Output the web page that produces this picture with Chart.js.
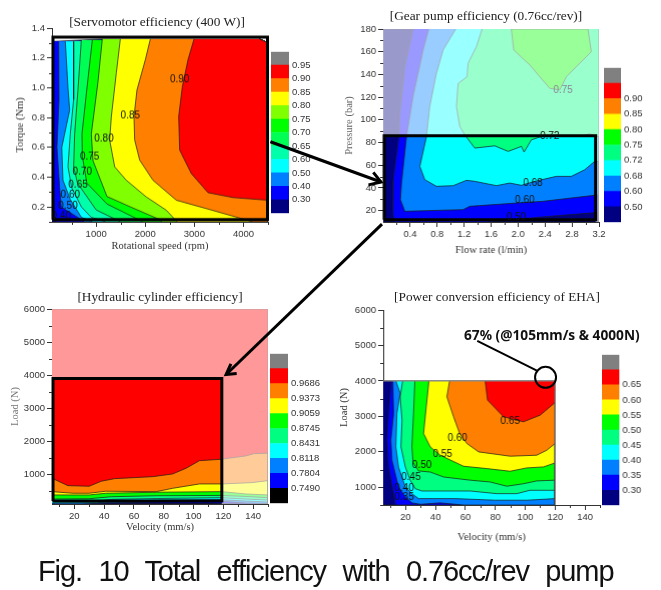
<!DOCTYPE html>
<html>
<head>
<meta charset="utf-8">
<style>
  html, body { margin: 0; padding: 0; background: #fff; overflow: hidden; }
  #page { position: relative; width: 661px; height: 590px; }
  canvas { position: absolute; }
  .panel-title { position: absolute; transform: translate(-50%, -50%); white-space: nowrap; font: 13.3px "Liberation Serif", serif; color: #222; }
  #note { position: absolute; left: 464px; top: 325px; white-space: nowrap; font: bold 13.7px "Noto Sans", sans-serif; color: #111; }
  #caption { position: absolute; left: 38px; top: 555px; white-space: nowrap; font: 29px "Liberation Sans", sans-serif; letter-spacing: -1.1px; word-spacing: 9.5px; color: #111; }
</style>
<script src="https://cdn.jsdelivr.net/npm/chart.js@4"></script>
</head>
<body>
<div id="page"></div>
<script>
// ---- Servomotor efficiency: x rpm, y Nm. Each curve bounds the region >= level
const motorXTicks = [1000, 2000, 3000, 4000];
const motorXMinor = [500, 1500, 2500, 3500, 4500];
const motorYTicks = [0.2, 0.4, 0.6, 0.8, 1.0, 1.2, 1.4];
const motorYMinor = [0.1, 0.3, 0.5, 0.7, 0.9, 1.1, 1.3];
const motorBase = [[100, 1.31], [700, 1.32], [1100, 1.326], [4330, 1.326], [4500, 1.30], [4500, 0.1], [100, 0.1]];
const motor030 = [[120, 1.31], [134, 0.9], [120, 0.45], [154, 0.12], [188, 0.1]];
const motor040 = [[236, 1.31], [243, 0.92], [202, 0.6], [256, 0.33], [290, 0.2], [766, 0.1]];
const motor050 = [[372, 1.31], [426, 1.0], [460, 0.85], [300, 0.6], [324, 0.38], [473, 0.25], [700, 0.13], [930, 0.1]];
const motor060 = [[541, 1.31], [541, 0.92], [473, 0.69], [426, 0.47], [500, 0.33], [700, 0.2], [900, 0.13], [1200, 0.1]];
const motor065 = [[698, 1.32], [630, 0.99], [562, 0.69], [541, 0.47], [620, 0.36], [1000, 0.18], [1500, 0.1]];
const motor070 = [[922, 1.32], [813, 1.0], [711, 0.69], [718, 0.54], [810, 0.36], [1220, 0.22], [1830, 0.12], [1950, 0.1]];
const motor075 = [[1125, 1.326], [1037, 1.04], [901, 0.69], [935, 0.51], [1220, 0.27], [1700, 0.2], [2260, 0.12], [2350, 0.1]];
const motor080 = [[1492, 1.326], [1411, 1.1], [1309, 0.806], [1275, 0.649], [1377, 0.469], [1614, 0.379], [2021, 0.267], [2429, 0.178], [2650, 0.1]];
const motor085 = [[2103, 1.326], [2001, 1.187], [1831, 0.985], [1770, 0.806], [1784, 0.649], [1886, 0.514], [2157, 0.379], [2633, 0.245], [3244, 0.189], [3957, 0.122], [4194, 0.1]];
const motor090 = [[2993, 1.326], [2870, 1.187], [2755, 1.007], [2680, 0.806], [2701, 0.581], [2938, 0.424], [3278, 0.296], [3787, 0.263], [4500, 0.245]];
const motorBox = [[120, 0.115], [4490, 0.115], [4490, 1.34], [120, 1.34], [120, 0.115]];
const motorCorners = [[4500, 0.1], [4500, 1.30], [4330, 1.326]];
const motorLabelText = ['0.90', '0.85', '0.80', '0.75', '0.70', '0.65', '0.60', '0.50', '0.40'];
const motorLabelX = [2700, 1696, 1159, 867, 718, 630, 473, 426, 290];
const motorLabelY = [1.052, 0.812, 0.66, 0.536, 0.435, 0.35, 0.28, 0.207, 0.14];
const motorBarLabels = ['0.30', '0.40', '0.50', '0.60', '0.65', '0.70', '0.75', '0.80', '0.85', '0.90', '0.95'];

// ---- Gear pump efficiency: x l/min, y bar
const pumpXTicks = [0.4, 0.8, 1.2, 1.6, 2.0, 2.4, 2.8, 3.2];
const pumpXMinor = [0.2, 0.6, 1.0, 1.4, 1.8, 2.2, 2.6, 3.0];
const pumpYTicks = [20, 40, 60, 80, 100, 120, 140, 160, 180];
const pumpYMinor = [30, 50, 70, 90, 110, 130, 150, 170];
const pumpBase = [[0, 180], [3.2, 180], [3.2, 10], [0, 10]];
const pump050 = [[0.444, 180], [0.321, 147], [0.247, 106], [0.232, 85], [0.148, 47], [0.14, 20], [0.16, 10], [1.53, 10], [2.37, 14.5], [3.2, 18.5]];
const pump060 = [[0.677, 180], [0.593, 161.5], [0.444, 120.5], [0.346, 85.3], [0.272, 44.3], [0.257, 29.7], [0.321, 19.4], [1.185, 20.9], [1.284, 23.8], [1.975, 26.7], [2.37, 28.2], [3.2, 34]];
const pump068 = [[1.077, 180], [0.889, 161.5], [0.79, 141], [0.691, 111.7], [0.642, 85.3], [0.543, 59], [0.617, 47.3], [0.79, 41.4], [1.037, 42], [1.235, 46.7], [1.358, 45.8], [1.679, 42], [1.876, 44.3], [2.05, 42.3], [2.247, 45.8], [2.568, 50.2], [2.79, 50.2], [2.988, 56], [3.136, 63.4], [3.2, 63.4]];
const pump072 = [[1.467, 180], [1.383, 164.5], [1.259, 149.8], [1.244, 138], [1.111, 132], [1.086, 111.7], [1.136, 94.1], [1.21, 86.8], [1.358, 75.1], [1.654, 77.1], [1.852, 72.2], [2.05, 76.6], [2.089, 71.6], [2.197, 82.4], [2.346, 85.3], [2.913, 85.3], [3.06, 87.7], [3.2, 85]];
const pump075 = [[1.9, 180], [1.936, 161.5], [2.173, 148.4], [2.469, 127.8], [2.617, 126.4], [2.716, 138], [3.086, 160], [3.037, 180], [1.9, 180]];
const pumpFade = [[0, 86], [3.15, 86], [3.15, 10], [3.2, 10], [3.2, 180], [0, 180]];
const pumpBox = [[0.015, 12], [3.15, 12], [3.15, 86], [0.015, 86], [0.015, 12]];
const pumpCorners = [[3.2, 10], [3.2, 180]];
const pumpLabelText = ['0.75', '0.72', '0.68', '0.60', '0.50'];
const pumpLabelX = [2.667, 2.47, 2.22, 2.1, 1.975];
const pumpLabelY = [125.8, 85.3, 44.3, 28.8, 14.4];
const pumpBarLabels = ['0.50', '0.60', '0.68', '0.72', '0.75', '0.80', '0.85', '0.90'];

// ---- Hydraulic cylinder efficiency: x mm/s, y N
const cylXTicks = [20, 40, 60, 80, 100, 120, 140];
const cylXMinor = [10, 30, 50, 70, 90, 110, 130, 150];
const cylYTicks = [1000, 2000, 3000, 4000, 5000, 6000];
const cylYMinor = [500, 1500, 2500, 3500, 4500, 5500];
const cylBase = [[5, 100], [150, 100], [150, 6000], [5, 6000]];
const cyl7490 = [[5, 100], [40, 110], [70, 115], [110, 125], [135, 100]];
const cyl7804 = [[5, 100], [25, 100], [40, 130], [75, 160], [100, 175], [119, 185], [135, 130], [150, 110]];
const cyl8118 = [[5, 130], [35, 140], [45, 170], [75, 215], [119, 230], [135, 190], [150, 160]];
const cyl8431 = [[5, 180], [35, 190], [45, 240], [75, 265], [119, 290], [135, 250], [150, 220]];
const cyl8745 = [[5, 250], [30, 260], [45, 320], [75, 350], [119, 360], [139, 320], [150, 290]];
const cyl9059 = [[5, 374], [30, 374], [41, 425], [75, 456], [119, 474], [135, 404], [150, 374]];
const cyl9373 = [[5, 474], [19, 425], [30, 425], [41, 486], [75, 474], [86, 575], [104, 707], [119, 707], [139, 746], [150, 806]];
const cyl9686 = [[5, 879], [15.7, 655], [30, 637], [38, 788], [47, 867], [72.6, 927], [86, 1009], [95, 1181], [104, 1411], [118.4, 1453], [135, 1553], [140.7, 1623], [150, 1635]];
const cylFade = [[5, 3900], [119, 3900], [119, 100], [150, 100], [150, 6000], [5, 6000]];
const cylBox = [[5.7, 193], [119, 193], [119, 3900], [5.7, 3900], [5.7, 193]];
const cylCorners = [[150, 100], [150, 6000], [5, 6000]];
const cylBarLabels = ['0.7490', '0.7804', '0.8118', '0.8431', '0.8745', '0.9059', '0.9373', '0.9686'];

// ---- Power conversion efficiency of EHA: x mm/s, y N
const powerXTicks = [20, 40, 60, 80, 100, 120, 140];
const powerXMinor = [10, 30, 50, 70, 90, 110, 130, 150];
const powerYTicks = [1000, 2000, 3000, 4000, 5000, 6000];
const powerYMinor = [500, 1500, 2500, 3500, 4500, 5500];
const powerBase = [[5, 500], [120, 500], [120, 4000], [5, 4000]];
const power030 = [[10.4, 4000], [8.6, 3080], [7.5, 2330], [8.6, 1570], [12, 820], [13.1, 500]];
const power035 = [[11.5, 4000], [12, 3080], [10.2, 2330], [10.9, 1760], [15.3, 1010], [19.8, 730], [24.2, 560], [29.8, 520], [43, 560], [58.7, 500]];
const power040 = [[13.5, 4000], [16.4, 3650], [14.2, 3080], [13.5, 2140], [15.3, 1570], [19.8, 1010], [24.2, 820], [28.7, 680], [53.2, 680], [79.9, 635], [101, 635], [120, 680]];
const power045 = [[18, 4000], [16.4, 3550], [17.6, 2890], [16.9, 2140], [19.8, 1570], [23.1, 1200], [26.5, 960], [30.9, 895], [63.2, 895], [81, 820], [94.4, 820], [103, 915], [120, 915]];
const power050 = [[26.2, 4000], [25.3, 3080], [24.2, 2140], [25, 1700], [28.7, 1460], [36.5, 1430], [45.4, 1290], [63.2, 1200], [76.5, 1150], [87.7, 1030], [98.8, 1100], [107.7, 1180], [120, 1200]];
const power055 = [[35.6, 4000], [33.8, 3269], [32, 2516], [36.5, 2139], [43.2, 1904], [58.7, 1593], [74.3, 1527], [89.9, 1452], [101, 1546], [112.2, 1574], [120, 1687]];
const power060 = [[49.4, 4000], [47.6, 3552], [52.1, 2987], [56.1, 2516], [61, 2233], [68.8, 1998], [89.9, 1876], [107.7, 1904], [114.4, 2045], [120, 2233]];
const power065 = [[73.2, 4000], [74.8, 3458], [85.5, 2987], [98.8, 2846], [110, 3034], [120, 3392]];
const powerEdge = [[5, 4000], [120, 4000], [120, 500]];
const powerCorners = [[120, 500], [120, 4000]];
const powerLabelText = ['0.65', '0.60', '0.55', '0.50', '0.45', '0.40', '0.35'];
const powerLabelX = [89.9, 54.7, 44.7, 30.9, 23.6, 19.1, 19.1];
const powerLabelY = [2855, 2375, 1932, 1612, 1292, 981, 708];
const powerBarLabels = ['0.30', '0.35', '0.40', '0.45', '0.50', '0.55', '0.60', '0.65'];

// ---- colours, bottom band first
const NAVY = '#000080', BLUE = '#0000ff', AZURE = '#0080ff', CYAN = '#00ffff', SPRING = '#00ff80',
      GREEN = '#00ff00', LIME = '#80ff00', YELLOW = '#ffff00', ORANGE = '#ff8000', RED = '#ff0000', GRAY = '#808080';
const motorColors = [NAVY, BLUE, AZURE, CYAN, '#00ffaa', '#00ff55', GREEN, LIME, YELLOW, ORANGE, RED, GRAY];
const pumpColors = [NAVY, BLUE, AZURE, CYAN, SPRING, GREEN, YELLOW, ORANGE, RED, GRAY];
const cylColors = ['#000000', BLUE, AZURE, CYAN, SPRING, GREEN, YELLOW, ORANGE, RED, GRAY];
const powerColors = [NAVY, BLUE, AZURE, CYAN, SPRING, GREEN, YELLOW, ORANGE, RED, GRAY];

// ---- annotations in page pixels
const arrowOne = [[268, 135], [383, 177]];
const arrowOneHeadA = [[370, 180], [383, 177], [375, 167]];
const arrowTwo = [[384, 221], [222, 378]];
const arrowTwoHeadA = [[233, 377], [222, 378], [227, 367]];
const noteLeader = [[483, 343], [545, 374]];
const noteCircle = [[554, 381]];

const TICK_FONT = { family: '"Liberation Sans", Arial, sans-serif', size: 9.5 };
const AXIS_FONT = { family: '"Liberation Serif", serif', size: 10.5, weight: 'normal' };
const INK = '#333';
Chart.defaults.animation = false;
Chart.defaults.events = [];

const page = document.getElementById('page');

function addCanvas(left, top, width, height) {
  const c = document.createElement('canvas');
  c.width = width;
  c.height = height;
  c.style.left = left + 'px';
  c.style.top = top + 'px';
  c.style.width = width + 'px';
  c.style.height = height + 'px';
  page.appendChild(c);
  return c;
}

function addText(text, cx, cy) {
  const d = document.createElement('div');
  d.className = 'panel-title';
  d.textContent = text;
  d.style.left = cx + 'px';
  d.style.top = cy + 'px';
  page.appendChild(d);
}

function toPoints(list) {
  return list.map(p => ({ x: p[0], y: p[1] }));
}

function region(curve, color, corners) {
  return {
    data: toPoints(curve.concat(corners || [])),
    showLine: true, pointRadius: 0, tension: 0,
    fill: 'shape', backgroundColor: color,
    borderColor: '#1a1a1a', borderWidth: 0.7
  };
}

function box(list) {
  return { data: toPoints(list), showLine: true, pointRadius: 0, borderColor: '#000', borderWidth: 3, clip: false, fill: false };
}

function fade(list) {
  return { data: toPoints(list), showLine: true, pointRadius: 0, borderWidth: 0, fill: 'shape', backgroundColor: 'rgba(255,255,255,0.6)' };
}

// minor ticks and the contour labels, neither of which Chart.js has
const panelExtras = {
  id: 'panelExtras',
  afterDatasetsDraw(chart, args, opts) {
    const { ctx, scales: { x, y } } = chart;
    ctx.save();
    ctx.strokeStyle = INK;
    ctx.lineWidth = 1;
    ctx.beginPath();
    opts.xMinor.forEach(v => {
      const px = Math.round(x.getPixelForValue(v)) + 0.5;
      ctx.moveTo(px, x.top);
      ctx.lineTo(px, x.top + 3);
    });
    opts.yMinor.forEach(v => {
      const py = Math.round(y.getPixelForValue(v)) + 0.5;
      ctx.moveTo(y.right, py);
      ctx.lineTo(y.right - 3, py);
    });
    ctx.stroke();
    ctx.font = '10px "Liberation Sans", Arial, sans-serif';
    ctx.textAlign = 'center';
    ctx.textBaseline = 'middle';
    opts.text.forEach((t, i) => {
      ctx.fillStyle = opts.fadeAbove !== undefined && opts.labelY[i] > opts.fadeAbove ? '#889' : '#111';
      ctx.fillText(t, x.getPixelForValue(opts.labelX[i]), y.getPixelForValue(opts.labelY[i]));
    });
    ctx.restore();
  }
};

function makePanel(cfg) {
  const [x0, y0, x1, y1] = cfg.plot;
  const left = Math.max(0, x0 - 52), top = y0 - 10, right = x1 + 14, bottom = y1 + 42;
  const canvas = addCanvas(left, top, right - left, bottom - top);
  const titleLine = AXIS_FONT.size * 1.2;
  const yAxisLeft = cfg.yTitleX - titleLine / 2;
  const xAxisBottom = cfg.xTitleY + titleLine / 2;
  const datasets = cfg.datasets.map((d, i) => Object.assign(d, { order: -i }));
  return new Chart(canvas, {
    type: 'scatter',
    data: { datasets },
    options: {
      responsive: false,
      layout: { padding: { left: yAxisLeft - left, top: y0 - top, right: right - x1, bottom: bottom - xAxisBottom } },
      scales: {
        x: {
          type: 'linear', min: cfg.xRange[0], max: cfg.xRange[1],
          afterFit: s => { s.height = xAxisBottom - y1; },
          afterBuildTicks: s => { s.ticks = cfg.xTicks.map(value => ({ value })); },
          grid: { drawOnChartArea: false, tickLength: 5, color: INK },
          border: { color: INK },
          ticks: { font: TICK_FONT, color: INK, padding: 2, maxRotation: 0, autoSkip: false, callback: cfg.xFormat || (v => v) },
          title: { display: true, text: cfg.xTitle, font: AXIS_FONT, color: INK, padding: 0 }
        },
        y: {
          type: 'linear', min: cfg.yRange[0], max: cfg.yRange[1],
          afterFit: s => { s.width = x0 - yAxisLeft; },
          afterBuildTicks: s => { s.ticks = cfg.yTicks.map(value => ({ value })); },
          grid: { drawOnChartArea: false, tickLength: 5, color: INK },
          border: { color: INK },
          ticks: { font: TICK_FONT, color: INK, padding: 2, autoSkip: false, callback: cfg.yFormat || (v => v) },
          title: { display: true, text: cfg.yTitle, font: AXIS_FONT, color: cfg.yTitleColor || INK, padding: 0 }
        }
      },
      plugins: {
        legend: { display: false },
        tooltip: { enabled: false },
        panelExtras: {
          xMinor: cfg.xMinor, yMinor: cfg.yMinor,
          text: cfg.labelText || [], labelX: cfg.labelX || [], labelY: cfg.labelY || [],
          fadeAbove: cfg.fadeAbove
        }
      }
    },
    plugins: [panelExtras]
  });
}

function makeColorBar(x0, y0, x1, y1, colors, labels) {
  const pad = 8, labelRoom = 38;
  const canvas = addCanvas(x0, y0 - pad, x1 - x0 + labelRoom, y1 - y0 + pad * 2);
  new Chart(canvas, {
    type: 'bar',
    data: {
      labels: [''],
      datasets: colors.map(c => ({ data: [1], backgroundColor: c, categoryPercentage: 1, barPercentage: 1, borderWidth: 0 }))
    },
    options: {
      responsive: false,
      layout: { padding: { top: pad, bottom: pad } },
      scales: {
        x: { display: false, stacked: true },
        y: {
          stacked: true, position: 'right', min: 0, max: colors.length,
          afterFit: s => { s.width = labelRoom; },
          afterBuildTicks: s => { s.ticks = labels.map((l, i) => ({ value: i + 1 })); },
          grid: { display: false, drawTicks: false },
          border: { display: false },
          ticks: { font: TICK_FONT, color: INK, padding: 3, autoSkip: false, callback: v => labels[v - 1] }
        }
      },
      plugins: { legend: { display: false }, tooltip: { enabled: false } }
    }
  });
}

makePanel({
  plot: [52.3, 28.3, 268.3, 222], xRange: [100, 4500], yRange: [0.1, 1.4],
  xTicks: motorXTicks, xMinor: motorXMinor, yTicks: motorYTicks, yMinor: motorYMinor,
  yFormat: v => v.toFixed(1),
  xTitle: 'Rotational speed (rpm)', yTitle: 'Torque (Nm)', xTitleY: 246.7, yTitleX: 20.7,
  labelText: motorLabelText, labelX: motorLabelX, labelY: motorLabelY,
  datasets: [
    region(motorBase, NAVY),
    region(motor030, BLUE, motorCorners), region(motor040, AZURE, motorCorners), region(motor050, CYAN, motorCorners),
    region(motor060, '#00ffaa', motorCorners), region(motor065, '#00ff55', motorCorners), region(motor070, GREEN, motorCorners),
    region(motor075, LIME, motorCorners), region(motor080, YELLOW, motorCorners), region(motor085, ORANGE, motorCorners),
    region(motor090, RED, motorCorners), box(motorBox)
  ]
});
makeColorBar(271, 51, 289, 214, motorColors, motorBarLabels);
addText('[Servomotor efficiency (400 W)]', 157, 22);

makePanel({
  plot: [383.3, 29, 599.3, 222], xRange: [0, 3.2], yRange: [10, 180],
  xTicks: pumpXTicks, xMinor: pumpXMinor, yTicks: pumpYTicks, yMinor: pumpYMinor,
  xFormat: v => v.toFixed(1),
  xTitle: 'Flow rate (l/min)', yTitle: 'Pressure (bar)', xTitleY: 250, yTitleX: 350, yTitleColor: '#666',
  labelText: pumpLabelText, labelX: pumpLabelX, labelY: pumpLabelY, fadeAbove: 100,
  datasets: [
    region(pumpBase, NAVY),
    region(pump050, BLUE, pumpCorners), region(pump060, AZURE, pumpCorners), region(pump068, CYAN, pumpCorners),
    region(pump072, SPRING, pumpCorners), region(pump075, GREEN),
    fade(pumpFade), box(pumpBox)
  ]
});
makeColorBar(604, 67.3, 621, 222.7, pumpColors, pumpBarLabels);
addText('[Gear pump efficiency (0.76cc/rev)]', 486, 15.7);

makePanel({
  plot: [52.3, 309, 268.3, 504], xRange: [5, 150], yRange: [100, 6000],
  xTicks: cylXTicks, xMinor: cylXMinor, yTicks: cylYTicks, yMinor: cylYMinor,
  xTitle: 'Velocity (mm/s)', yTitle: 'Load (N)', xTitleY: 527, yTitleX: 15.7, yTitleColor: '#777',
  datasets: [
    region(cylBase, '#000000'),
    region(cyl7490, BLUE, cylCorners), region(cyl7804, AZURE, cylCorners), region(cyl8118, CYAN, cylCorners),
    region(cyl8431, SPRING, cylCorners), region(cyl8745, GREEN, cylCorners), region(cyl9059, YELLOW, cylCorners),
    region(cyl9373, ORANGE, cylCorners), region(cyl9686, RED, cylCorners),
    fade(cylFade), box(cylBox)
  ]
});
makeColorBar(270, 352.7, 288, 504, cylColors, cylBarLabels);
addText('[Hydraulic cylinder efficiency]', 160, 296.7);

makePanel({
  plot: [383.3, 310, 600, 505], xRange: [5, 150], yRange: [500, 6000],
  xTicks: powerXTicks, xMinor: powerXMinor, yTicks: powerYTicks, yMinor: powerYMinor,
  xTitle: 'Velocity (mm/s)', yTitle: 'Load (N)', xTitleY: 537, yTitleX: 345,
  labelText: powerLabelText, labelX: powerLabelX, labelY: powerLabelY,
  datasets: [
    region(powerBase, NAVY),
    region(power030, BLUE, powerCorners), region(power035, AZURE, powerCorners), region(power040, CYAN, powerCorners),
    region(power045, SPRING, powerCorners), region(power050, GREEN, powerCorners), region(power055, YELLOW, powerCorners),
    region(power060, ORANGE, powerCorners), region(power065, RED, powerCorners),
    { data: toPoints(powerEdge), showLine: true, pointRadius: 0, borderColor: '#888', borderWidth: 1.2, fill: false, clip: false }
  ]
});
makeColorBar(602.3, 354, 620, 506, powerColors, powerBarLabels);
addText('[Power conversion efficiency of EHA]', 497, 296.7);

// arrows and the 67% callout on a full page overlay
function stroke(list, width) {
  return { data: toPoints(list), showLine: true, pointRadius: 0, borderColor: '#000', borderWidth: width, fill: false, tension: 0, clip: false };
}
new Chart(addCanvas(0, 0, 661, 590), {
  type: 'scatter',
  data: {
    datasets: [
      stroke(arrowOne, 3), stroke(arrowOneHeadA, 3), stroke(arrowTwo, 3), stroke(arrowTwoHeadA, 3), stroke(noteLeader, 2),
      { data: toPoints(noteCircle), pointRadius: 10.5, pointBackgroundColor: 'transparent', pointBorderColor: '#000', pointBorderWidth: 2 }
    ]
  },
  options: {
    responsive: false,
    scales: {
      x: { type: 'linear', min: 0, max: 661, display: false },
      y: { type: 'linear', min: 0, max: 590, reverse: true, display: false }
    },
    plugins: { legend: { display: false }, tooltip: { enabled: false } }
  }
});

const note = document.createElement('div');
note.id = 'note';
note.textContent = '67% (@105mm/s & 4000N)';
page.appendChild(note);

const caption = document.createElement('div');
caption.id = 'caption';
caption.textContent = 'Fig. 10 Total efficiency with 0.76cc/rev pump';
page.appendChild(caption);
</script>
</body>
</html>
